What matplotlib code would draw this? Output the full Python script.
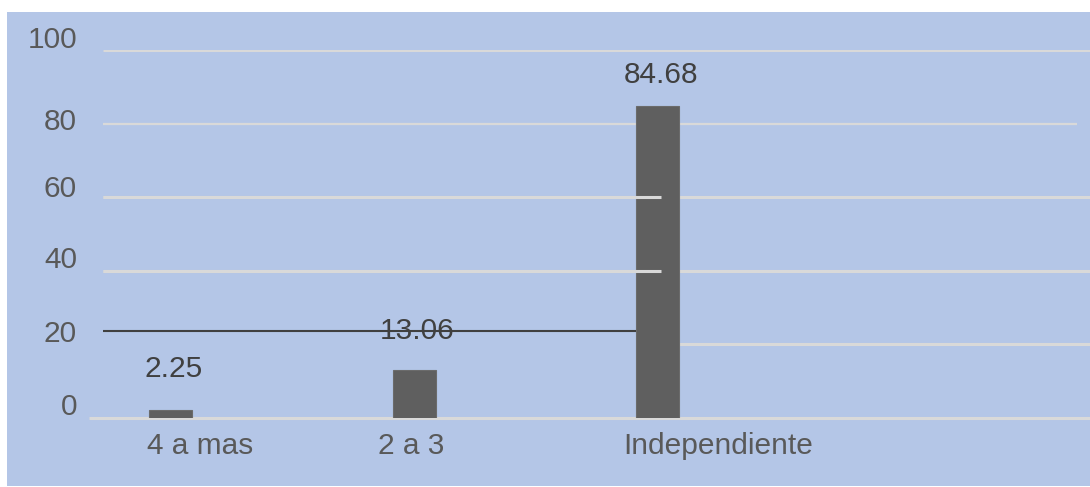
import matplotlib
matplotlib.use('Agg')
import matplotlib.pyplot as plt
from matplotlib.patches import Rectangle

# share of respondents by group (%)
categories = ['4 a mas', '2 a 3', 'Independiente']
values = [2.25, 13.06, 84.68]
value_labels = ['2.25', '13.06', '84.68']
y_ticks = [0, 20, 40, 60, 80, 100]
ref_level = 23.6  # dark rule across the left part of the plot

W, H = 1090, 487
PANEL = '#B4C6E7'
GRID = '#D9D9D9'
BAR = '#5F5F5F'
TXT = '#595959'
LBL = '#404040'
FS = 21.5

plt.rcParams['font.family'] = ['Liberation Sans', 'DejaVu Sans']

fig = plt.figure(figsize=(W / 100, H / 100), dpi=100)
fig.patch.set_facecolor('white')
fig.patches.append(Rectangle((7 / W, 1 / H), 1 - 7 / W, 474 / H,
                             transform=fig.transFigure, facecolor=PANEL,
                             edgecolor='none', zorder=-5))

ax = fig.add_axes([103 / W, (H - 418) / H, (W - 103) / W, 368 / H])
ax.set_facecolor('none')
ax.set_zorder(1)
for s in ax.spines.values():
    s.set_visible(False)
x0, x1 = -0.2772, 3.776
ax.set_xlim(x0, x1)
ax.set_ylim(0, 100)
ax.set_xticks([])
ax.set_yticks([])

bw = 0.1766
xs = list(range(len(values)))
ax.bar(xs, values, width=bw, color=BAR, edgecolor='#6B6B6B', linewidth=0.8, zorder=2)

# gridlines (some broken around the tall bar)
glw = 2.2
last = xs[-1]
ax.plot([x0, x1], [100, 100], color=GRID, lw=glw, zorder=1, solid_capstyle='butt')
ax.plot([x0, 3.723], [80, 80], color=GRID, lw=1.6, zorder=1, solid_capstyle='butt')
for v in (60, 40):
    ax.plot([x0, x1], [v, v], color=GRID, lw=glw, zorder=1, solid_capstyle='butt')
    ax.plot([x0, last + 0.014], [v, v], color=GRID, lw=glw, zorder=3, solid_capstyle='butt')
ax.plot([last + bw / 2, x1], [20, 20], color=GRID, lw=glw, zorder=1, solid_capstyle='butt')
ax.plot([-0.335, x1], [0, 0], color=GRID, lw=glw, zorder=1, clip_on=False,
        solid_capstyle='butt')
ax.plot([x0, last - bw / 2], [ref_level, ref_level], color='#404040', lw=1.5, zorder=3,
        solid_capstyle='butt')

# y tick labels
y_nudge = [3, 2, 3, 0, -6, 2]
for v, dy in zip(y_ticks, y_nudge):
    ax.annotate(str(v), xy=(0, v), xycoords=('axes fraction', 'data'),
                xytext=(-26, dy), textcoords='offset pixels',
                ha='right', va='baseline', fontsize=FS, color=TXT, annotation_clip=False)

# category labels
label_x = [0.12, 0.99, 2.25]
for lx, name in zip(label_x, categories):
    ax.annotate(name, xy=(lx, 0), xytext=(0, -36), textcoords='offset pixels',
                ha='center', va='baseline', fontsize=FS, color=TXT, annotation_clip=False)

# value labels above bars
lift = [33, 31, 23]
for x, v, txt, dy in zip(xs, values, value_labels, lift):
    ax.annotate(txt, xy=(x, v), xytext=(3, dy), textcoords='offset pixels',
                ha='center', va='baseline', fontsize=FS, color=LBL, zorder=4)

fig.savefig('out.png', dpi=100)
